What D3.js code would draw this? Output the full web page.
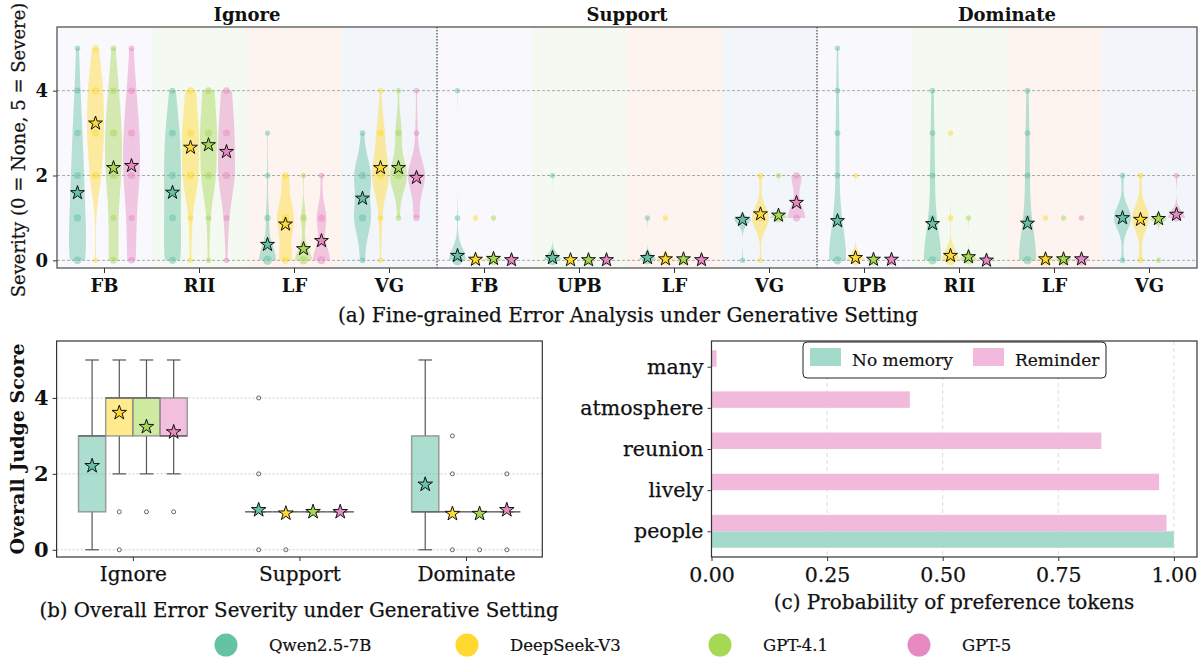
<!DOCTYPE html>
<html>
<head>
<meta charset="utf-8">
<script src="https://cdn.jsdelivr.net/npm/d3@7"></script>
<style>
  body { margin: 0; background: #fff; }
  svg { display: block; font-family: "DejaVu Serif", serif; }
</style>
</head>
<body>
<svg id="chart" width="1203" height="662"></svg>
<script>
// ---- data ----
const models = ["Qwen2.5-7B", "DeepSeek-V3", "GPT-4.1", "GPT-5"];
const modelColors = ["#66c2a5", "#ffd92f", "#a6d854", "#e78ac3"];
const groups = ["Ignore", "Support", "Dominate"];
const subTypes = [["FB", "RII", "LF", "VG"], ["FB", "UPB", "LF", "VG"], ["UPB", "RII", "LF", "VG"]];

// (a) how many answers got severity 0..5, per sub type, per model
const ignoreCounts = [
  [[14, 11, 9, 7, 4, 2], [1, 0, 9, 13, 12, 5], [8, 3, 10, 10, 6, 2], [6, 4, 10, 9, 5, 2]],
  [[10, 8, 9, 8, 3, 0], [1, 2, 11, 11, 7, 0], [1, 2, 10, 11, 8, 0], [1, 3, 11, 10, 7, 0]],
  [[30, 5, 2, 1, 0, 0], [9, 12, 5, 0, 0, 0], [22, 6, 1, 0, 0, 0], [18, 10, 2, 0, 0, 0]],
  [[3, 11, 11, 2, 0, 0], [1, 2, 13, 6, 1, 0], [0, 2, 14, 5, 1, 0], [0, 5, 15, 2, 1, 0]]
];
const supportCounts = [
  [[45, 2, 0, 0, 1, 0], [40, 1, 0, 0, 0, 0], [40, 1, 0, 0, 0, 0], [40, 0, 0, 0, 0, 0]],
  [[40, 0, 1, 0, 0, 0], [40, 0, 0, 0, 0, 0], [40, 0, 0, 0, 0, 0], [40, 0, 0, 0, 0, 0]],
  [[20, 1, 0, 0, 0, 0], [30, 1, 0, 0, 0, 0], [40, 0, 0, 0, 0, 0], [40, 0, 0, 0, 0, 0]],
  [[1, 14, 0, 0, 0, 0], [1, 12, 2, 0, 0, 0], [0, 30, 1, 0, 0, 0], [0, 10, 6, 0, 0, 0]]
];
const dominateCounts = [
  [[22, 3, 3, 3, 2, 1], [38, 0, 1, 0, 0, 0], [40, 0, 0, 0, 0, 0], [40, 0, 0, 0, 0, 0]],
  [[20, 4, 4, 3, 2, 0], [40, 2, 0, 1, 0, 0], [20, 1, 0, 0, 0, 0], [40, 0, 0, 0, 0, 0]],
  [[20, 4, 4, 3, 2, 0], [60, 1, 0, 0, 0, 0], [60, 1, 0, 0, 0, 0], [60, 1, 0, 0, 0, 0]],
  [[2, 14, 2, 0, 0, 0], [3, 14, 2, 0, 0, 0], [1, 30, 0, 0, 0, 0], [0, 12, 1, 0, 0, 0]]
];
// mean severity (stars)
const ignoreMeans = [[1.59, 3.23, 2.18, 2.23], [1.60, 2.66, 2.72, 2.56], [0.37, 0.85, 0.27, 0.46], [1.46, 2.18, 2.18, 1.95]];
const supportMeans = [[0.11, 0.02, 0.04, 0.01], [0.06, 0.01, 0.01, 0.01], [0.06, 0.03, 0.03, 0.01], [0.96, 1.09, 1.06, 1.36]];
const dominateMeans = [[0.93, 0.06, 0.02, 0.02], [0.86, 0.11, 0.08, 0.0], [0.87, 0.03, 0.03, 0.03], [1.0, 0.96, 0.98, 1.08]];

// (b) overall judge score box stats, [group][model]
const judgeQ1 = [[1, 3, 3, 3], [1, 1, 1, 1], [1, 1, 1, 1]];
const judgeMedian = [[3, 4, 4, 3], [1, 1, 1, 1], [1, 1, 1, 1]];
const judgeQ3 = [[3, 4, 4, 4], [1, 1, 1, 1], [3, 1, 1, 1]];
const judgeLow = [[0, 2, 2, 2], [1, 1, 1, 1], [0, 1, 1, 1]];
const judgeHigh = [[5, 5, 5, 5], [1, 1, 1, 1], [5, 1, 1, 1]];
const judgeOutliers = [[[], [1, 0], [1], [1]], [[4, 2, 0], [0], [], []], [[], [3, 2, 0], [0], [2, 0]]];
const judgeMeans = [[2.21, 3.61, 3.24, 3.10], [1.05, 0.96, 1.0, 1.0], [1.72, 0.95, 0.95, 1.05]];

// (c) probability of preference tokens
const tokens = ["people", "lively", "reunion", "atmosphere", "many"];
const noMemoryProb = [1.0, 0, 0, 0, 0];
const reminderProb = [0.984, 0.968, 0.843, 0.429, 0.011];
const probTicks = [0, 0.25, 0.5, 0.75, 1.0];

// ---- drawing ----
const svg = d3.select("#chart");
const FONT = "DejaVu Serif";
const INK = "#111";
const allCounts = [ignoreCounts, supportCounts, dominateCounts];
const allMeans = [ignoreMeans, supportMeans, dominateMeans];
const bandFills = ["#f8f8fd", "#f4f9f1", "#fdf4f0", "#f2f6fa"];

// ===== (a) violins =====
const pa = { left: 57, right: 1197, top: 27, bottom: 268 };
const keys = [];
groups.forEach((g, gi) => subTypes[gi].forEach(s => keys.push(gi + "-" + s)));

const xA = d3.scaleBand().domain(keys).range([pa.left, pa.right]);
const hueA = d3.scaleBand().domain(models).range([-36, 36]);
const yA = d3.scaleLinear().domain([-0.18, 5.5]).range([pa.bottom, pa.top]);
const dotR = d3.scaleSqrt().domain([0, 60]).range([2.2, 5.5]);

const gA = svg.append("g");
// background bands
keys.forEach((k, i) => {
  gA.append("rect")
    .attr("x", xA(k)).attr("y", pa.top)
    .attr("width", xA.bandwidth()).attr("height", pa.bottom - pa.top)
    .attr("fill", bandFills[i % 4]);
});
// grid
[0, 2, 4].forEach(v => {
  gA.append("line")
    .attr("x1", pa.left).attr("x2", pa.right)
    .attr("y1", yA(v)).attr("y2", yA(v))
    .attr("stroke", "#aaa").attr("stroke-width", 1).attr("stroke-dasharray", "3,2");
});

// gaussian kde, cut at the data range, scaled to max 1
function kde(counts) {
  const n = d3.sum(counts);
  const mean = d3.sum(counts, (c, i) => c * i) / n;
  const sd = Math.sqrt(d3.sum(counts, (c, i) => c * (i - mean) ** 2) / (n - 1));
  if (!(sd > 0)) return null;
  const h = sd * Math.pow(n, -0.2);
  const lo = counts.findIndex(c => c > 0);
  const hi = counts.length - 1 - counts.slice().reverse().findIndex(c => c > 0);
  const pts = d3.range(100).map(k => {
    const v = lo + (hi - lo) * k / 99;
    return [v, d3.sum(counts, (c, i) => c * Math.exp(-0.5 * ((v - i) / h) ** 2))];
  });
  const mx = d3.max(pts, p => p[1]);
  return pts.map(p => [p[0], p[1] / mx]);
}

const halfW = 8.5;
groups.forEach((g, gi) => {
  subTypes[gi].forEach((s, si) => {
    const cx0 = xA(gi + "-" + s) + xA.bandwidth() / 2;
    models.forEach((m, mi) => {
      const counts = allCounts[gi][si][mi];
      const cx = cx0 + hueA(m) + hueA.bandwidth() / 2;
      const dens = kde(counts);
      if (dens) {
        const area = d3.area()
          .x0(d => cx - d[1] * halfW)
          .x1(d => cx + d[1] * halfW)
          .y(d => yA(d[0]));
        gA.append("path").attr("d", area(dens))
          .attr("fill", modelColors[mi]).attr("fill-opacity", 0.45);
      }
      counts.forEach((c, lvl) => {
        if (c > 0) {
          gA.append("circle")
            .attr("cx", cx).attr("cy", yA(lvl)).attr("r", dotR(c))
            .attr("fill", modelColors[mi]).attr("fill-opacity", 0.5);
        }
      });
    });
  });
});
// stars on top
groups.forEach((g, gi) => {
  subTypes[gi].forEach((s, si) => {
    const cx0 = xA(gi + "-" + s) + xA.bandwidth() / 2;
    models.forEach((m, mi) => {
      const cx = cx0 + hueA(m) + hueA.bandwidth() / 2;
      gA.append("path")
        .attr("d", d3.symbol(d3.symbolStar, 60)())
        .attr("transform", `translate(${cx},${yA(allMeans[gi][si][mi])})`)
        .attr("fill", modelColors[mi]).attr("stroke", INK).attr("stroke-width", 1);
    });
  });
});
// group dividers
[1, 2].forEach(gi => {
  const x = xA(gi + "-" + subTypes[gi][0]);
  gA.append("line").attr("x1", x).attr("x2", x)
    .attr("y1", pa.top).attr("y2", pa.bottom)
    .attr("stroke", "#666").attr("stroke-width", 1.5).attr("stroke-dasharray", "1.5,1.5");
});
gA.append("rect")
  .attr("x", pa.left).attr("y", pa.top)
  .attr("width", pa.right - pa.left).attr("height", pa.bottom - pa.top)
  .attr("fill", "none").attr("stroke", "#555").attr("stroke-width", 1.3);

// axes
const axA = svg.append("g").attr("transform", `translate(0,${pa.bottom})`)
  .call(d3.axisBottom(xA).tickSize(5).tickPadding(6).tickFormat(d => d.split("-")[1]));
const ayA = svg.append("g").attr("transform", `translate(${pa.left},0)`)
  .call(d3.axisLeft(yA).tickValues([0, 2, 4]).tickSize(4).tickPadding(5).tickFormat(d3.format("d")));
[axA, ayA].forEach(a => {
  a.select(".domain").remove();
  a.selectAll("text").attr("font-family", FONT).attr("font-size", 18).attr("font-weight", "bold").attr("fill", INK);
  a.selectAll("line").attr("stroke", "#333");
});

groups.forEach((g, gi) => {
  const x0 = xA(gi + "-" + subTypes[gi][0]);
  svg.append("text")
    .attr("x", x0 + 2 * xA.bandwidth()).attr("y", 14)
    .attr("text-anchor", "middle").attr("dominant-baseline", "central")
    .attr("font-size", 18).attr("font-weight", "bold").attr("fill", INK)
    .text(g);
});
svg.append("text")
  .attr("transform", "translate(18,150) rotate(-90)")
  .attr("text-anchor", "middle").attr("dominant-baseline", "central")
  .attr("font-size", 18).attr("fill", INK).attr("stroke", INK).attr("stroke-width", 0.25)
  .text("Severity (0 = None, 5 = Severe)");
svg.append("text")
  .attr("x", 628).attr("y", 315)
  .attr("text-anchor", "middle").attr("dominant-baseline", "central")
  .attr("font-size", 20).attr("fill", INK).attr("stroke", INK).attr("stroke-width", 0.25)
  .text("(a) Fine-grained Error Analysis under Generative Setting");

// ===== (b) box plot =====
const bp = { left: 56.6, right: 542.3, top: 341, bottom: 557 };
const xB = d3.scaleLinear().domain([-0.458, 2.458]).range([bp.left, bp.right]);
const yB = d3.scaleLinear().domain([-0.19, 5.5]).range([bp.bottom, bp.top]);
const hueB = d3.scaleBand().domain(models).range([-0.3265, 0.3265]);
const gB = svg.append("g");

[0, 2, 4].forEach(v => {
  gB.append("line")
    .attr("x1", bp.left).attr("x2", bp.right)
    .attr("y1", yB(v)).attr("y2", yB(v))
    .attr("stroke", "#ccc").attr("stroke-width", 1).attr("stroke-dasharray", "2,2");
});

groups.forEach((g, gi) => {
  models.forEach((m, mi) => {
    const cx = xB(gi + hueB(m) + hueB.bandwidth() / 2);
    const bw = xB(hueB.bandwidth()) - xB(0);
    const q1 = yB(judgeQ1[gi][mi]), q3 = yB(judgeQ3[gi][mi]);
    // whiskers and caps
    gB.append("line").attr("x1", cx).attr("x2", cx)
      .attr("y1", q3).attr("y2", yB(judgeHigh[gi][mi])).attr("stroke", "#555").attr("stroke-width", 1.2);
    gB.append("line").attr("x1", cx).attr("x2", cx)
      .attr("y1", q1).attr("y2", yB(judgeLow[gi][mi])).attr("stroke", "#555").attr("stroke-width", 1.2);
    [judgeHigh[gi][mi], judgeLow[gi][mi]].forEach(v => {
      gB.append("line").attr("x1", cx - bw / 4).attr("x2", cx + bw / 4)
        .attr("y1", yB(v)).attr("y2", yB(v)).attr("stroke", "#555").attr("stroke-width", 1.2);
    });
    gB.append("rect")
      .attr("x", cx - bw / 2).attr("y", q3)
      .attr("width", bw).attr("height", q1 - q3)
      .attr("fill", modelColors[mi]).attr("fill-opacity", 0.55)
      .attr("stroke", "#888").attr("stroke-opacity", 0.8).attr("stroke-width", 1.5);
    gB.append("line").attr("x1", cx - bw / 2).attr("x2", cx + bw / 2)
      .attr("y1", yB(judgeMedian[gi][mi])).attr("y2", yB(judgeMedian[gi][mi]))
      .attr("stroke", "#666").attr("stroke-width", 1.5);
    judgeOutliers[gi][mi].forEach(v => {
      gB.append("circle").attr("cx", cx).attr("cy", yB(v)).attr("r", 2)
        .attr("fill", "none").attr("stroke", "#555").attr("stroke-width", 0.9);
    });
  });
});
groups.forEach((g, gi) => {
  models.forEach((m, mi) => {
    const cx = xB(gi + hueB(m) + hueB.bandwidth() / 2);
    gB.append("path")
      .attr("d", d3.symbol(d3.symbolStar, 66)())
      .attr("transform", `translate(${cx},${yB(judgeMeans[gi][mi])})`)
      .attr("fill", modelColors[mi]).attr("stroke", INK).attr("stroke-width", 1);
  });
});
gB.append("rect")
  .attr("x", bp.left).attr("y", bp.top)
  .attr("width", bp.right - bp.left).attr("height", bp.bottom - bp.top)
  .attr("fill", "none").attr("stroke", "#333").attr("stroke-width", 1.2);

const axB = svg.append("g").attr("transform", `translate(0,${bp.bottom})`)
  .call(d3.axisBottom(xB).tickValues([0, 1, 2]).tickSize(4).tickPadding(6).tickFormat(i => groups[i]));
const ayB = svg.append("g").attr("transform", `translate(${bp.left},0)`)
  .call(d3.axisLeft(yB).tickValues([0, 2, 4]).tickSize(4).tickPadding(4).tickFormat(d3.format("d")));
[axB, ayB].forEach(a => {
  a.select(".domain").remove();
  a.selectAll("line").attr("stroke", "#333");
  a.selectAll("text").attr("font-family", FONT).attr("fill", INK);
});
axB.selectAll("text").attr("font-size", 20).attr("stroke", INK).attr("stroke-width", 0.25);
ayB.selectAll("text").attr("font-size", 21).attr("font-weight", "bold");
svg.append("text")
  .attr("transform", "translate(17,449) rotate(-90)")
  .attr("text-anchor", "middle").attr("dominant-baseline", "central")
  .attr("font-size", 19).attr("font-weight", "bold").attr("fill", INK)
  .text("Overall Judge Score");
svg.append("text")
  .attr("x", 299).attr("y", 610)
  .attr("text-anchor", "middle").attr("dominant-baseline", "central")
  .attr("font-size", 19.8).attr("fill", INK).attr("stroke", INK).attr("stroke-width", 0.25)
  .text("(b) Overall Error Severity under Generative Setting");

// ===== (c) horizontal bars =====
const cp = { left: 711.5, right: 1197, top: 341, bottom: 557 };
const xC = d3.scaleLinear().domain([0, 1.05]).range([cp.left, cp.right]);
const yC = d3.scaleLinear().domain([-0.625, 4.625]).range([cp.bottom, cp.top]);
const gC = svg.append("g");
const barH = yC(0) - yC(0.4);
const noMemColor = "rgb(163,218,201)";
const remColor = "rgb(241,185,219)";

probTicks.slice(1).forEach(v => {
  gC.append("line")
    .attr("x1", xC(v)).attr("x2", xC(v))
    .attr("y1", cp.top).attr("y2", cp.bottom)
    .attr("stroke", "#ddd").attr("stroke-width", 1).attr("stroke-dasharray", "4,3");
});
tokens.forEach((t, i) => {
  gC.append("rect")
    .attr("x", xC(0)).attr("y", yC(i))
    .attr("width", xC(noMemoryProb[i]) - xC(0)).attr("height", barH)
    .attr("fill", noMemColor);
  gC.append("rect")
    .attr("x", xC(0)).attr("y", yC(i + 0.4))
    .attr("width", xC(reminderProb[i]) - xC(0)).attr("height", barH)
    .attr("fill", remColor);
});
gC.append("rect")
  .attr("x", cp.left).attr("y", cp.top)
  .attr("width", cp.right - cp.left).attr("height", cp.bottom - cp.top)
  .attr("fill", "none").attr("stroke", "#333").attr("stroke-width", 1.2);

const axC = svg.append("g").attr("transform", `translate(0,${cp.bottom})`)
  .call(d3.axisBottom(xC).tickValues(probTicks).tickSize(4).tickPadding(6).tickFormat(d3.format(".2f")));
const ayC = svg.append("g").attr("transform", `translate(${cp.left},0)`)
  .call(d3.axisLeft(yC).tickValues(d3.range(tokens.length)).tickSize(4).tickPadding(4).tickFormat(i => tokens[i]));
[axC, ayC].forEach(a => {
  a.select(".domain").remove();
  a.selectAll("line").attr("stroke", "#333");
  a.selectAll("text").attr("font-family", FONT).attr("fill", INK).attr("font-size", 20.5)
    .attr("stroke", INK).attr("stroke-width", 0.25);
});
svg.append("text")
  .attr("x", 954).attr("y", 602)
  .attr("text-anchor", "middle").attr("dominant-baseline", "central")
  .attr("font-size", 20).attr("fill", INK).attr("stroke", INK).attr("stroke-width", 0.25)
  .text("(c) Probability of preference tokens");

// legend (c)
const lg = svg.append("g");
lg.append("rect").attr("x", 803).attr("y", 342).attr("width", 303).attr("height", 36).attr("rx", 4)
  .attr("fill", "#fff").attr("stroke", "#222").attr("stroke-width", 1);
[["No memory", noMemColor, 810], ["Reminder", remColor, 973]].forEach(([label, col, x]) => {
  lg.append("rect").attr("x", x).attr("y", 348).attr("width", 31).attr("height", 18).attr("fill", col);
  lg.append("text").attr("x", x + 42).attr("y", 360).attr("dominant-baseline", "central")
    .attr("font-size", 17).attr("fill", INK).attr("stroke", INK).attr("stroke-width", 0.2).text(label);
});

// ===== model legend =====
const legX = [226, 467, 720, 919];
models.forEach((m, i) => {
  svg.append("circle").attr("cx", legX[i]).attr("cy", 645).attr("r", 11.5).attr("fill", modelColors[i]);
  svg.append("text").attr("x", legX[i] + 43).attr("y", 645).attr("dominant-baseline", "central")
    .attr("font-size", 16.5).attr("fill", INK).attr("stroke", INK).attr("stroke-width", 0.2).text(m);
});
</script>
</body>
</html>
